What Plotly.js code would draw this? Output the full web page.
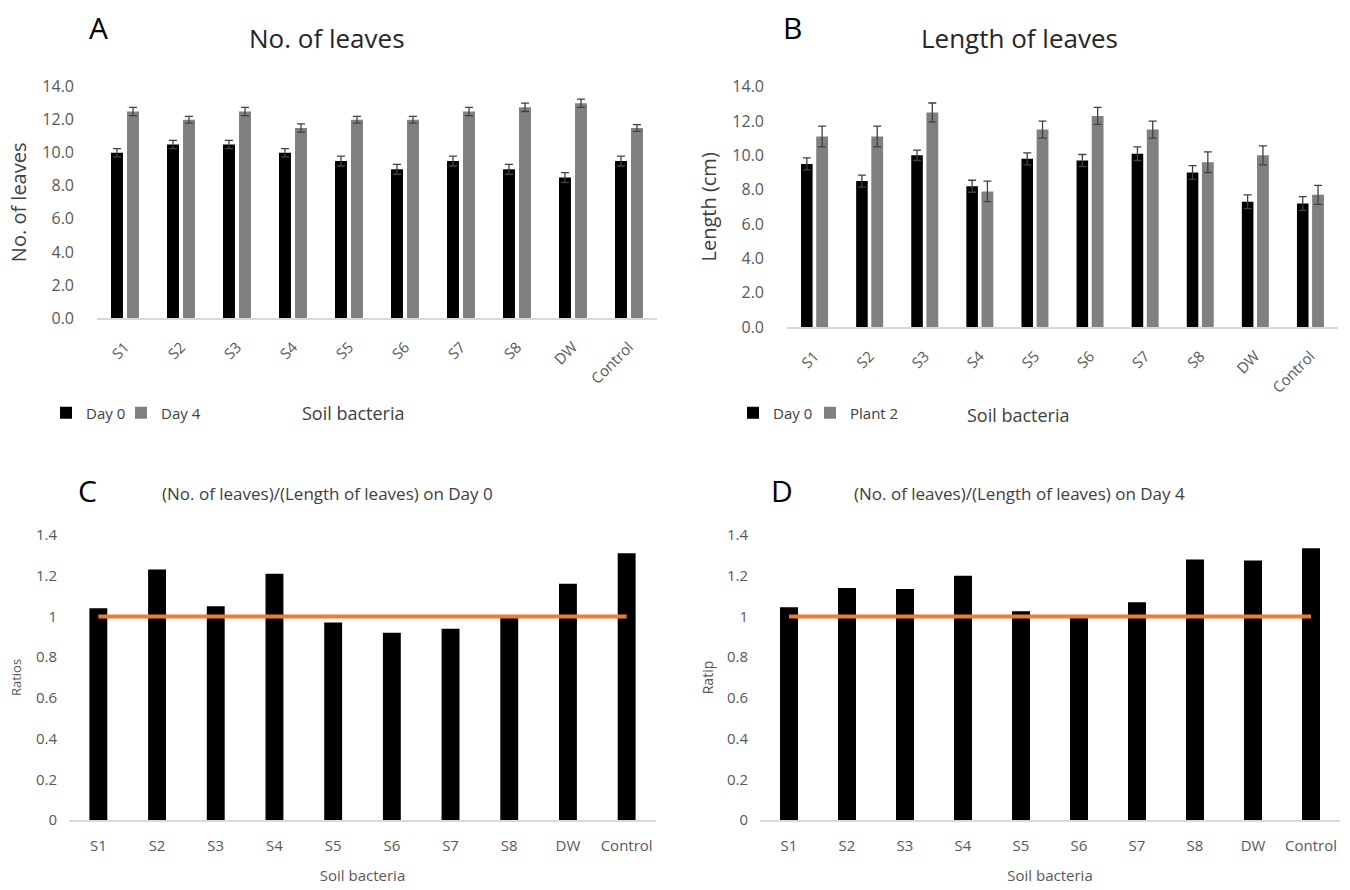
<!DOCTYPE html>
<html>
<head>
<meta charset="utf-8">
<script src="https://cdn.plot.ly/plotly-3.0.1.min.js"></script>
<style>html,body{margin:0;padding:0;background:#fff;}#chart{width:1350px;height:890px;}</style>
</head>
<body>
<div id="chart"></div>
<script>
// ---- data ----
const categories = ['S1','S2','S3','S4','S5','S6','S7','S8','DW','Control'];

const leavesDay0 = [10.0, 10.5, 10.5, 10.0, 9.5, 9.0, 9.5, 9.0, 8.5, 9.5];
const leavesDay0Err = [0.25, 0.25, 0.25, 0.25, 0.3, 0.3, 0.3, 0.3, 0.3, 0.3];
const leavesDay4 = [12.5, 12.0, 12.5, 11.5, 12.0, 12.0, 12.5, 12.75, 13.0, 11.5];
const leavesDay4Err = [0.25, 0.2, 0.25, 0.25, 0.2, 0.2, 0.25, 0.25, 0.25, 0.2];

const lengthDay0 = [9.5, 8.5, 10.0, 8.2, 9.8, 9.7, 10.1, 9.0, 7.3, 7.2];
const lengthDay0Err = [0.35, 0.35, 0.3, 0.35, 0.35, 0.35, 0.4, 0.4, 0.4, 0.4];
const lengthPlant2 = [11.1, 11.1, 12.5, 7.9, 11.5, 12.3, 11.5, 9.6, 10.0, 7.7];
const lengthPlant2Err = [0.6, 0.6, 0.55, 0.6, 0.5, 0.5, 0.5, 0.6, 0.55, 0.55];

const ratioDay0 = [1.04, 1.23, 1.05, 1.21, 0.97, 0.92, 0.94, 1.0, 1.16, 1.31];
const ratioDay4 = [1.045, 1.14, 1.135, 1.2, 1.025, 1.0, 1.07, 1.28, 1.275, 1.335];
const refLine = [1, 1, 1, 1, 1, 1, 1, 1, 1, 1];

// ---- layout helpers ----
const W = 1350, H = 890;
const px = x => x / W;
const py = y => 1 - y / H;
const FONT = '"Open Sans", "Noto Sans", sans-serif';
const TICK = '#595959';
const ERR = '#404040';

const errA = arr => ({type:'data', array: arr, visible:true, color: ERR, thickness: 1.3, width: 4});

const traces = [
  // Panel A
  {type:'bar', x:categories, y:leavesDay0, name:'Day 0', marker:{color:'#000000'},
   width:0.214, offset:-0.25, error_y:errA(leavesDay0Err), xaxis:'x', yaxis:'y', legend:'legend'},
  {type:'bar', x:categories, y:leavesDay4, name:'Day 4', marker:{color:'#808080'},
   width:0.214, offset:0.036, error_y:errA(leavesDay4Err), xaxis:'x', yaxis:'y', legend:'legend2'},
  // Panel B
  {type:'bar', x:categories, y:lengthDay0, name:'Day 0', marker:{color:'#000000'},
   width:0.21, offset:-0.245, error_y:errA(lengthDay0Err), xaxis:'x2', yaxis:'y2', legend:'legend3'},
  {type:'bar', x:categories, y:lengthPlant2, name:'Plant 2', marker:{color:'#808080'},
   width:0.215, offset:0.03, error_y:errA(lengthPlant2Err), xaxis:'x2', yaxis:'y2', legend:'legend4'},
  // Panel C
  {type:'bar', x:categories, y:ratioDay0, name:'Ratio Day 0', marker:{color:'#000000'},
   width:0.305, xaxis:'x3', yaxis:'y3', showlegend:false},
  {type:'scatter', mode:'lines', x:categories, y:refLine, name:'1', line:{color:'#ED7D31', width:4},
   xaxis:'x3', yaxis:'y3', showlegend:false},
  // Panel D
  {type:'bar', x:categories, y:ratioDay4, name:'Ratio Day 4', marker:{color:'#000000'},
   width:0.31, xaxis:'x4', yaxis:'y4', showlegend:false},
  {type:'scatter', mode:'lines', x:categories, y:refLine, name:'1', line:{color:'#ED7D31', width:4},
   xaxis:'x4', yaxis:'y4', showlegend:false}
];

const xBase = (domain, anchor, angle, size, standoff) => ({
  domain: domain, anchor: anchor, type:'category', tickangle: angle,
  tickfont:{family:FONT, size:size, color:TICK}, showline:true, linecolor:'#d9d9d9', linewidth:1.5,
  ticks:'', showgrid:false, zeroline:false, ticklabelstandoff: standoff, automargin:false, fixedrange:true
});
const yBase = (domain, anchor, range, dtick, fmt, size, standoff) => ({
  domain: domain, anchor: anchor, range: range, dtick: dtick, tickformat: fmt,
  tickfont:{family:FONT, size:size, color:TICK}, showline:false, showgrid:false, zeroline:false,
  ticks:'', ticklabelstandoff: standoff, automargin:false, fixedrange:true
});
const leg = (x, y) => ({orientation:'h', x:px(x), y:py(y), xanchor:'left', yanchor:'middle',
  font:{family:FONT, size:15, color:'#404040'}, bgcolor:'rgba(0,0,0,0)', itemwidth:30});
const ann = (text, x, y, size, color) => ({text:text, x:px(x), y:py(y), xref:'paper', yref:'paper',
  xanchor:'center', yanchor:'middle', showarrow:false, font:{family:FONT, size:size, color:color}});

const layout = {
  width: W, height: H,
  margin:{l:0, r:0, t:0, b:0},
  paper_bgcolor:'#ffffff', plot_bgcolor:'#ffffff',
  font:{family:FONT, color:'#404040'},
  barmode:'group',
  xaxis: xBase([px(97), px(657)], 'y', -45, 15, 13),
  yaxis: Object.assign(yBase([py(318), py(86.7)], 'x', [0,14], 2, '.1f', 16, 22),
    {title:{text:'No. of leaves', font:{family:FONT, size:20, color:'#404040'}, standoff:10}}),
  xaxis2: xBase([px(787), px(1338)], 'y2', -45, 15, 13),
  yaxis2: Object.assign(yBase([py(327), py(86.7)], 'x2', [0,14], 2, '.1f', 16, 22),
    {title:{text:'Length (cm)', font:{family:FONT, size:20, color:'#404040'}, standoff:10}}),
  xaxis3: Object.assign(xBase([px(69), px(656)], 'y3', 0, 15, 11),
    {title:{text:'Soil bacteria', font:{family:FONT, size:15, color:TICK}, standoff:17}}),
  yaxis3: Object.assign(yBase([py(820), py(535)], 'x3', [0,1.4], 0.2, '', 15, 11),
    {title:{text:'Ratios', font:{family:FONT, size:13, color:TICK}, standoff:11}}),
  xaxis4: Object.assign(xBase([px(760), px(1340)], 'y4', 0, 15, 11),
    {title:{text:'Soil bacteria', font:{family:FONT, size:15, color:TICK}, standoff:17}}),
  yaxis4: Object.assign(yBase([py(820), py(535)], 'x4', [0,1.4], 0.2, '', 15, 11),
    {title:{text:'Ratip', font:{family:FONT, size:14, color:TICK}, standoff:10}}),
  legend: leg(46, 413),
  legend2: leg(121, 413),
  legend3: leg(733, 413),
  legend4: leg(810, 413),
  annotations:[
    ann('A', 98, 27, 30, '#000'),
    ann('No. of leaves', 327, 38, 26, '#262626'),
    ann('Soil bacteria', 353, 413, 18, '#404040'),
    ann('B', 792, 27, 30, '#000'),
    ann('Length of leaves', 1019, 38, 26, '#262626'),
    ann('Soil bacteria', 1018, 415, 18, '#404040'),
    ann('C', 87, 491, 30, '#000'),
    ann('(No. of leaves)/(Length of leaves) on Day 0', 327, 493, 17, '#404040'),
    ann('D', 782, 491, 30, '#000'),
    ann('(No. of leaves)/(Length of leaves) on Day 4', 1019, 493, 17, '#404040')
  ]
};

Plotly.newPlot('chart', traces, layout, {displayModeBar:false, staticPlot:true});
</script>
</body>
</html>
